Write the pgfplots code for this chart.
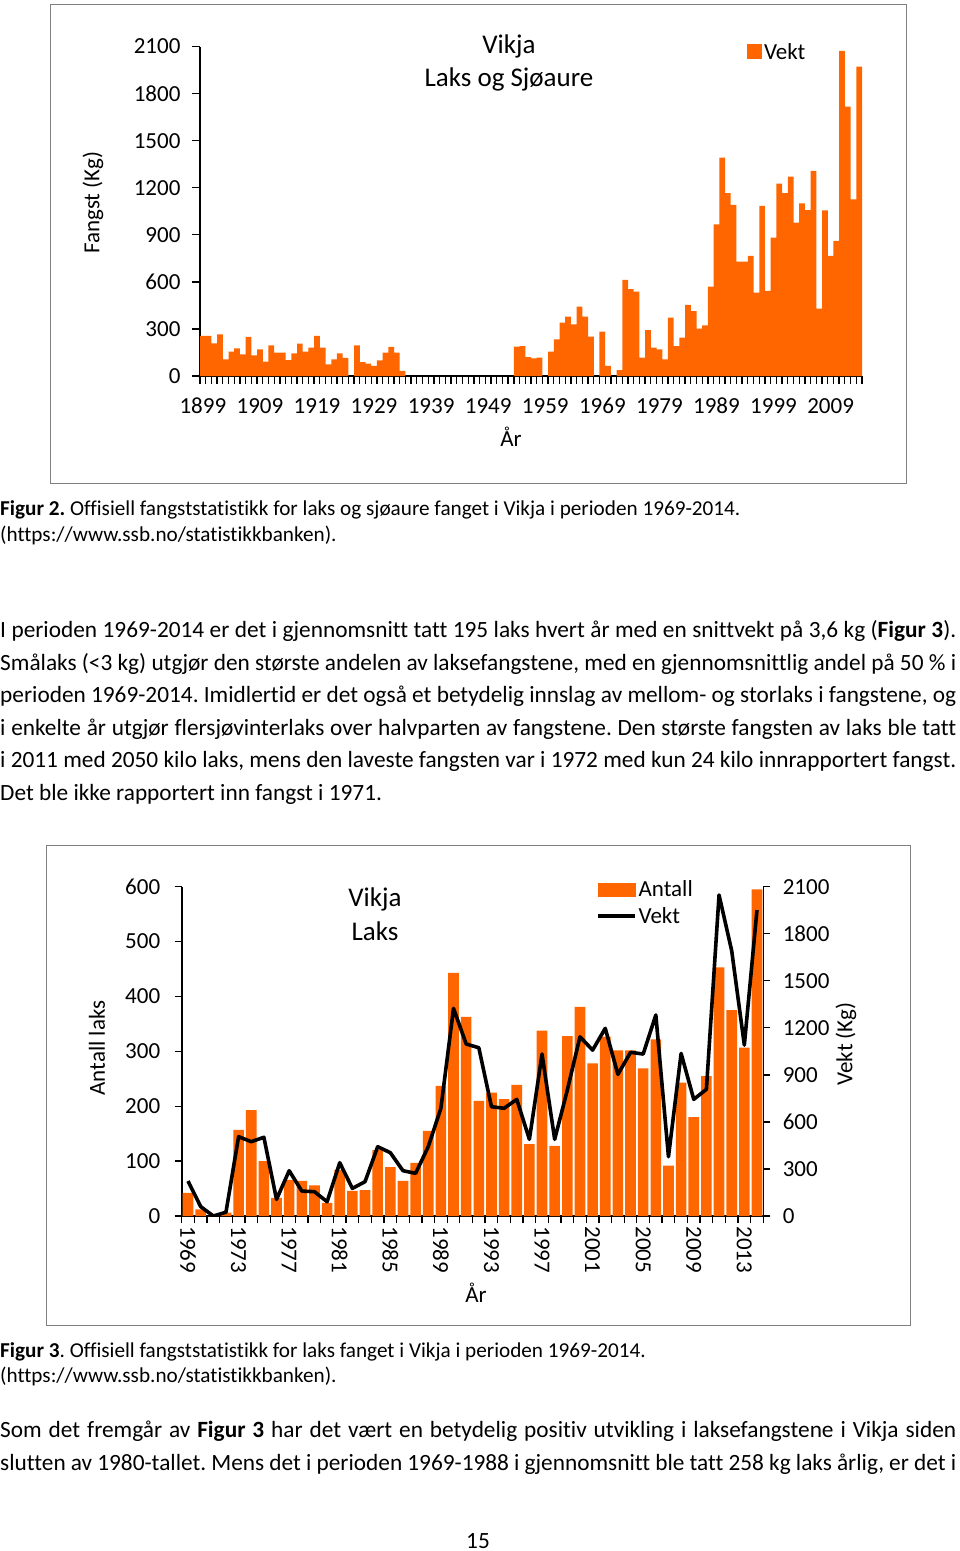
\documentclass[border=0pt]{standalone}
\usepackage{pgfplots}
\pgfplotsset{compat=1.18}
\usepackage{fontspec}
\setmainfont{Carlito}[Ligatures=NoCommon]
\frenchspacing
\definecolor{barorange}{HTML}{FF6600}
\definecolor{framegray}{HTML}{808080}

% one justified body line, baseline at y px from the top
\newcommand{\jline}[2]{\node[anchor=base west,inner sep=0pt] at (0pt,-#1pt) {\makebox[956pt][s]{#2}};}
\newcommand{\pline}[2]{\node[anchor=base west,inner sep=0pt] at (0pt,-#1pt) {#2};}
\newcommand{\chartfont}{\fontsize{23}{24}\selectfont}

\pgfplotsset{
  pagechart/.style={
    scale only axis,
    axis line style={line width=1.6pt},
    tick align=outside,
    every tick/.style={black,line width=1.3pt},
    major x tick style={draw=none},
    /pgf/number format/1000 sep={},
    /pgf/number format/assume math mode=true,
    tick label style={font=\chartfont},
    label style={font=\chartfont},
  }
}

\begin{document}
\begin{tikzpicture}
\path[use as bounding box] (0pt,0pt) rectangle (960pt,-1551pt);

% ---------------- Figure 2 ----------------
\draw[framegray,line width=1pt] (50pt,-4pt) rectangle (906pt,-483pt);
\begin{axis}[pagechart,
  at={(200pt,-376pt)}, anchor=south west,
  width=662pt, height=329.5pt,
  xmin=1898.5, xmax=2014.5, ymin=0, ymax=2100,
  axis x line*=bottom, axis y line*=left,
  xtick={1899,1909,...,2009},
  minor xtick={1898.5,1899.5,...,2014.5},
  ytick={0,300,...,2100},
  major tick length=8pt, minor tick length=8pt,
  xticklabel style={anchor=center,yshift=-22pt},
  yticklabel style={anchor=east,xshift=-8pt},
  xlabel={År},
  xlabel style={at={(rel axis cs:0.4698,0)},anchor=center,yshift=-61pt},
  ylabel={Fangst (Kg)},
  ylabel style={at={(rel axis cs:0,0.5258)},anchor=center,yshift=107pt},
  legend style={at={(0.826,1.017)},anchor=north west,draw=none,fill=none,
    inner sep=0pt,font=\chartfont},
  legend cell align=left,
]
\addplot[ybar,bar width=1,fill=barorange,draw=none,
  legend image code/.code={\fill[barorange] (0pt,-7.5pt) rectangle (15pt,7.5pt);}]
coordinates{
(1899,255)(1900,255)(1901,208)(1902,266)(1903,106)(1904,155)(1905,176)(1906,138)
(1907,249)(1908,132)(1909,170)(1910,91)(1911,196)(1912,149)(1913,149)(1914,102)
(1915,145)(1916,206)(1917,155)(1918,181)(1919,255)(1920,181)(1921,74)(1922,106)
(1923,145)(1924,115)(1926,196)(1927,89)(1928,79)(1929,64)(1930,100)(1931,149)
(1932,185)(1933,149)(1934,32)
(1954,187)(1955,191)(1956,121)(1957,113)(1958,117)(1960,155)(1961,234)(1962,340)
(1963,378)(1964,329)(1965,442)(1966,378)(1967,251)(1969,283)(1970,64)(1972,38)
(1973,612)(1974,553)(1975,538)(1976,117)(1977,293)(1978,181)(1979,170)(1980,106)
(1981,372)(1982,191)(1983,244)(1984,453)(1985,414)(1986,302)(1987,323)(1988,570)
(1989,967)(1990,1392)(1991,1165)(1992,1090)(1993,729)(1994,729)(1995,765)(1996,531)
(1997,1084)(1998,542)(1999,882)(2000,1226)(2001,1165)(2002,1271)(2003,978)(2004,1101)
(2005,1058)(2006,1307)(2007,429)(2008,1056)(2009,765)(2010,861)(2011,2072)(2012,1717)
(2013,1126)(2014,1972)};
\addlegendentry{Vekt}
\end{axis}
\node[font=\fontsize{27}{28}\selectfont] at (509pt,-46pt) {Vikja};
\node[font=\fontsize{27}{28}\selectfont] at (509pt,-79pt) {Laks og Sjøaure};

% captions and text
\begin{scope}[font=\fontsize{21.2}{24}\selectfont]
\pline{515}{\textbf{Figur 2.} Offisiell fangststatistikk for laks og sjøaure fanget i Vikja i perioden 1969-2014.}
\pline{541}{(https://www.ssb.no/statistikkbanken).}
\pline{1357}{\textbf{Figur 3}. Offisiell fangststatistikk for laks fanget i Vikja i perioden 1969-2014.}
\pline{1382}{(https://www.ssb.no/statistikkbanken).}
\end{scope}
\begin{scope}[font=\fontsize{23.3}{26}\selectfont]
\jline{637}{I perioden 1969-2014 er det i gjennomsnitt tatt 195 laks hvert år med en snittvekt på 3,6 kg (\textbf{Figur 3}).}
\jline{670}{Smålaks (<3 kg) utgjør den største andelen av laksefangstene, med en gjennomsnittlig andel på 50 \% i}
\jline{702}{perioden 1969-2014. Imidlertid er det også et betydelig innslag av mellom- og storlaks i fangstene, og}
\jline{735}{i enkelte år utgjør flersjøvinterlaks over halvparten av fangstene. Den største fangsten av laks ble tatt}
\jline{767}{i 2011 med 2050 kilo laks, mens den laveste fangsten var i 1972 med kun 24 kilo innrapportert fangst.}
\pline{800}{Det ble ikke rapportert inn fangst i 1971.}
\jline{1437}{Som det fremgår av \textbf{Figur 3} har det vært en betydelig positiv utvikling i laksefangstene i Vikja siden}
\jline{1470}{slutten av 1980-tallet. Mens det i perioden 1969-1988 i gjennomsnitt ble tatt 258 kg laks årlig, er det i}
\node[anchor=base,inner sep=0pt] at (478pt,-1548pt) {15};
\end{scope}

% ---------------- Figure 3 ----------------
\draw[framegray,line width=1pt] (46pt,-845pt) rectangle (910pt,-1325pt);
\begin{axis}[pagechart,
  at={(181.7pt,-1216pt)}, anchor=south west,
  width=581.6pt, height=329.3pt,
  xmin=1968.5, xmax=2014.5, ymin=0, ymax=600,
  axis x line*=bottom, axis y line*=left,
  xtick={1969,1973,...,2013},
  minor xtick={1968.5,1969.5,...,2014.5},
  ytick={0,100,...,600},
  major tick length=7pt, minor tick length=7pt,
  xticklabel style={rotate=-90,anchor=west},
  yticklabel style={anchor=east,xshift=-11pt},
  xlabel={År},
  xlabel style={at={(rel axis cs:0.5061,0)},anchor=center,yshift=-77pt},
  ylabel={Antall laks},
  ylabel style={at={(rel axis cs:0,0.5102)},anchor=center,yshift=84.7pt},
]
\addplot[ybar,bar width=0.84,fill=barorange,draw=none] coordinates{
(1969,42)(1970,12)(1971,0)(1972,6)(1973,157)(1974,193)(1975,100)(1976,33)
(1977,66)(1978,64)(1979,56)(1980,24)(1981,84)(1982,46)(1983,47)(1984,120)
(1985,89)(1986,64)(1987,97)(1988,155)(1989,237)(1990,443)(1991,363)(1992,210)
(1993,225)(1994,213)(1995,239)(1996,131)(1997,338)(1998,128)(1999,328)(2000,381)
(2001,278)(2002,327)(2003,302)(2004,302)(2005,269)(2006,322)(2007,92)(2008,243)
(2009,180)(2010,255)(2011,453)(2012,375)(2013,307)(2014,595)};
\end{axis}
\begin{axis}[pagechart,
  at={(181.7pt,-1216pt)}, anchor=south west,
  width=581.6pt, height=329.3pt,
  xmin=1968.5, xmax=2014.5, ymin=0, ymax=2100,
  axis x line=none, axis y line*=right,
  ytick={0,300,...,2100},
  major tick length=7pt,
  yticklabel style={anchor=west,xshift=9pt},
  ylabel={Vekt (Kg)},
  ylabel style={at={(rel axis cs:1,0.5224)},anchor=center,yshift=-82.7pt},
  legend style={at={(0.712,1.025)},anchor=north west,draw=none,fill=none,
    inner sep=0pt,row sep=5pt,font=\chartfont},
  legend cell align=left,
]
\addlegendimage{legend image code/.code={\fill[barorange] (0pt,-6.5pt) rectangle (37pt,6.5pt);}}
\addlegendentry{Antall}
\addplot[black,line width=3.6pt,line join=round,
  legend image code/.code={\draw[black,line width=3.6pt] (0pt,0pt) -- (37pt,0pt);}]
coordinates{
(1969,223)(1970,60)(1971,0)(1972,24)(1973,506)(1974,474)(1975,502)(1976,106)
(1977,289)(1978,159)(1979,155)(1980,91)(1981,340)(1982,176)(1983,219)(1984,442)
(1985,404)(1986,289)(1987,272)(1988,442)(1989,687)(1990,1324)(1991,1097)(1992,1073)
(1993,697)(1994,687)(1995,744)(1996,489)(1997,1033)(1998,489)(1999,803)(2000,1143)
(2001,1058)(2002,1197)(2003,903)(2004,1044)(2005,1033)(2006,1282)(2007,378)(2008,1037)
(2009,744)(2010,808)(2011,2047)(2012,1692)(2013,1090)(2014,1951)};
\addlegendentry{Vekt}
\end{axis}
\node[font=\fontsize{27}{28}\selectfont] at (375pt,-899pt) {Vikja};
\node[font=\fontsize{27}{28}\selectfont] at (375pt,-931pt) {Laks};
\end{tikzpicture}
\end{document}
